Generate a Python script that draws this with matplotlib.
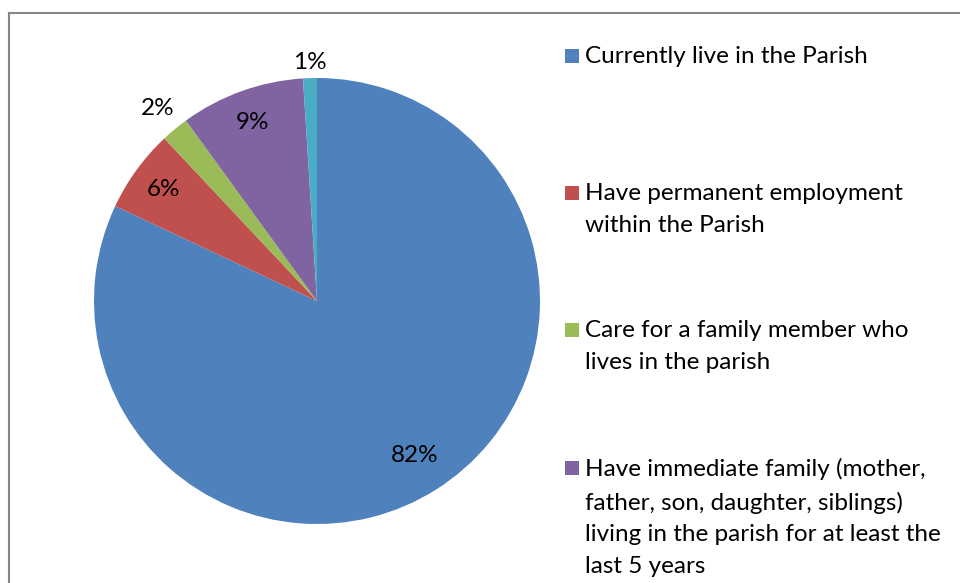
import numpy as np
import matplotlib.pyplot as plt
from matplotlib.patches import Rectangle
from matplotlib.lines import Line2D

# Survey answers (percent of respondents)
categories = [
    "Currently live in the Parish",
    "Have permanent employment\nwithin the Parish",
    "Care for a family member who\nlives in the parish",
    "Have immediate family (mother,\nfather, son, daughter, siblings)\nliving in the parish for at least the\nlast 5 years",
    "",
]
values = [82, 6, 2, 9, 1]
pct_labels = ["82%", "6%", "2%", "9%", "1%"]
colors = ["#4F81BD", "#C0504D", "#9BBB59", "#8064A2", "#4BACC6"]
label_dist = [0.82, 0.85, 1.12, 0.85, 1.07]  # inside / outside placement

plt.rcParams["font.family"] = ["Lato", "DejaVu Sans"]

W, H = 960, 583
fig = plt.figure(figsize=(W / 100, H / 100), dpi=100)

# chart area border (cropped at right/bottom)
fig.add_artist(Line2D([9 / W, 1], [1 - 13 / H, 1 - 13 / H], color="#868686", lw=1.5))
fig.add_artist(Line2D([9 / W, 9 / W], [0, 1 - 13 / H], color="#868686", lw=1.5))

ax = fig.add_axes([94 / W, 59 / H, 446 / W, 446 / H])
wedges, _ = ax.pie(values, colors=colors, startangle=90, counterclock=False,
                   wedgeprops=dict(linewidth=0))
ax.set_xlim(-1, 1)
ax.set_ylim(-1, 1)
ax.set_aspect("equal")

# percentage labels
for w, lab, d in zip(wedges, pct_labels, label_dist):
    ang = np.deg2rad((w.theta1 + w.theta2) / 2)
    ax.text(d * np.cos(ang), d * np.sin(ang), lab, ha="center", va="center",
            fontsize=17.5, color="black")

# legend drawn by hand so keys line up with the first text line
first_line_y = [56, 193, 330, 468]
for i, (cat, col) in enumerate(zip(categories[:4], colors[:4])):
    y = first_line_y[i]
    fig.add_artist(Rectangle((565 / W, 1 - (y + 7) / H), 14 / W, 14 / H,
                             facecolor=col, edgecolor="none"))
    fig.text(585 / W, 1 - (y - 10) / H, cat, ha="left", va="top",
             fontsize=17.5, linespacing=1.63, color="black")

fig.savefig("out.png", dpi=100)
